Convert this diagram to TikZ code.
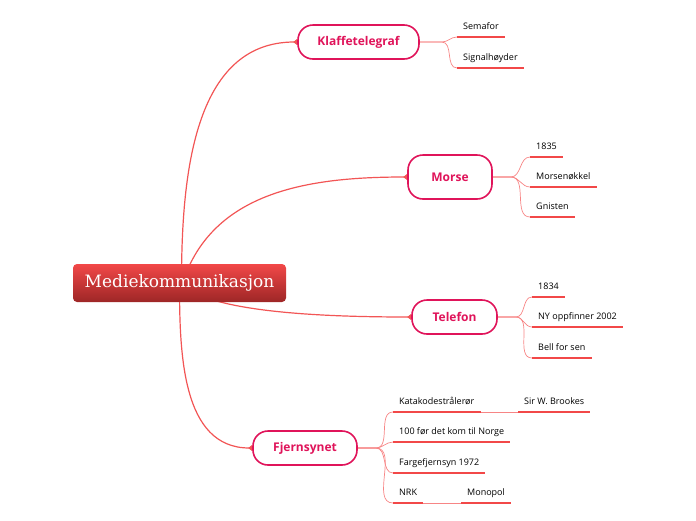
\documentclass[tikz,border=0pt]{standalone}
\usepackage{fontspec}
\setmainfont{DejaVu Serif}
\setsansfont{Open Sans}
\usetikzlibrary{arrows.meta, positioning, backgrounds}

\definecolor{crimson}{HTML}{E0145A}
\definecolor{trunkred}{HTML}{F25555}
\definecolor{linered}{HTML}{F24848}
\definecolor{twigred}{HTML}{F78585}

\begin{document}
\begin{tikzpicture}[
    x=1pt, y=-1pt,
    rootbox/.style={
        rectangle, rounded corners=4pt,
        top color=linered, bottom color=red!55!black!85!white,
        text=white, font=\fontsize{17}{20}\selectfont,
        minimum width=213pt, minimum height=38pt
    },
    topic/.style={
        rectangle, rounded corners=15pt,
        draw=crimson, line width=1.6pt, fill=white,
        text=crimson, font=\sffamily\bfseries\fontsize{12}{14}\selectfont,
        minimum height=34pt
    },
    leaf/.style={
        anchor=south west, inner xsep=6pt, inner ysep=0pt,
        text depth=7pt, font=\sffamily\fontsize{9}{11}\selectfont
    },
    trunk/.style={draw=trunkred, line width=1.2pt, -{Triangle[reversed, length=4pt, width=6pt]}},
    twig/.style={draw=twigred, line width=0.7pt},
    uline/.style={draw=linered, line width=2pt}
]
\useasboundingbox (0,0) rectangle (696,520);

% ---------------- ROOT + TOPICS ----------------
\node[rootbox]                     (ROOT) at (179.5,283) {Mediekommunikasjon};
\node[topic, minimum width=121pt]  (KLF)  at (358.5,42)  {Klaffetelegraf};
\node[topic, minimum width=84pt,
             minimum height=44pt]  (MRS)  at (450,177)   {Morse};
\node[topic, minimum width=85pt]   (TLF)  at (454.5,317) {Telefon};
\node[topic, minimum width=104pt]  (FJS)  at (305,448)   {Fjernsynet};

% ---------------- LEAVES ----------------
\node[leaf] (SEM) at (457,37)  {Semafor};
\node[leaf] (SIG) at (457,68)  {Signalhøyder};
\node[leaf] (MAA) at (530,157) {1835};
\node[leaf] (MNK) at (530,187) {Morsenøkkel};
\node[leaf] (GNI) at (530,217) {Gnisten};
\node[leaf] (TAA) at (532,297) {1834};
\node[leaf] (NYO) at (532,327) {NY oppfinner 2002};
\node[leaf] (BEL) at (532,358) {Bell for sen};
\node[leaf] (KAT) at (393,412) {Katakodestrålerør};
\node[leaf] (BRO) at (518,412) {Sir W. Brookes};
\node[leaf] (HUN) at (393,442) {100 før det kom til Norge};
\node[leaf] (FAR) at (393,473) {Fargefjernsyn 1972};
\node[leaf] (NRK) at (393,503) {NRK};
\node[leaf] (MON) at (461,503) {Monopol};

% underlines
\foreach \n in {SEM,SIG,MAA,MNK,GNI,TAA,NYO,BEL,KAT,BRO,HUN,FAR,NRK,MON}
    \draw[uline] (\n.south west) -- (\n.south east);

\begin{scope}[on background layer]
% root to topics
\draw[trunk] ([xshift=2pt]ROOT.center) to[out=90,  in=180]                 (KLF.west);
\draw[trunk] ([xshift=3pt]ROOT.center) to[out=72,  in=180]                 (MRS.west);
\draw[trunk] (ROOT.center)             to[out=-45, in=180, out looseness=0.45] (TLF.west);
\draw[trunk] (ROOT.center)             to[out=-90, in=180]                 (FJS.west);

% topics to leaves
\draw[twig] (KLF.east) -- ++(22,0) to[out=0,in=180] (SEM.south west);
\draw[twig] (KLF.east) -- ++(22,0) to[out=0,in=180] (SIG.south west);
\draw[twig] (MRS.east) -- ++(18,0) to[out=0,in=180] (MAA.south west);
\draw[twig] (MRS.east) -- ++(18,0) to[out=0,in=180] (MNK.south west);
\draw[twig] (MRS.east) -- ++(18,0) to[out=0,in=180] (GNI.south west);
\draw[twig] (TLF.east) -- ++(18,0) to[out=0,in=180] (TAA.south west);
\draw[twig] (TLF.east) -- ++(18,0) to[out=0,in=180] (NYO.south west);
\draw[twig] (TLF.east) -- ++(18,0) to[out=0,in=180] (BEL.south west);
\draw[twig] (FJS.east) -- ++(18,0) to[out=0,in=180] (KAT.south west);
\draw[twig] (FJS.east) -- ++(18,0) to[out=0,in=180] (HUN.south west);
\draw[twig] (FJS.east) -- ++(18,0) to[out=0,in=180] (FAR.south west);
\draw[twig] (FJS.east) -- ++(18,0) to[out=0,in=180] (NRK.south west);

% second level
\draw[twig] (KAT.south east) -- (BRO.south west);
\draw[twig] (NRK.south east) -- (MON.south west);
\end{scope}

\end{tikzpicture}
\end{document}
